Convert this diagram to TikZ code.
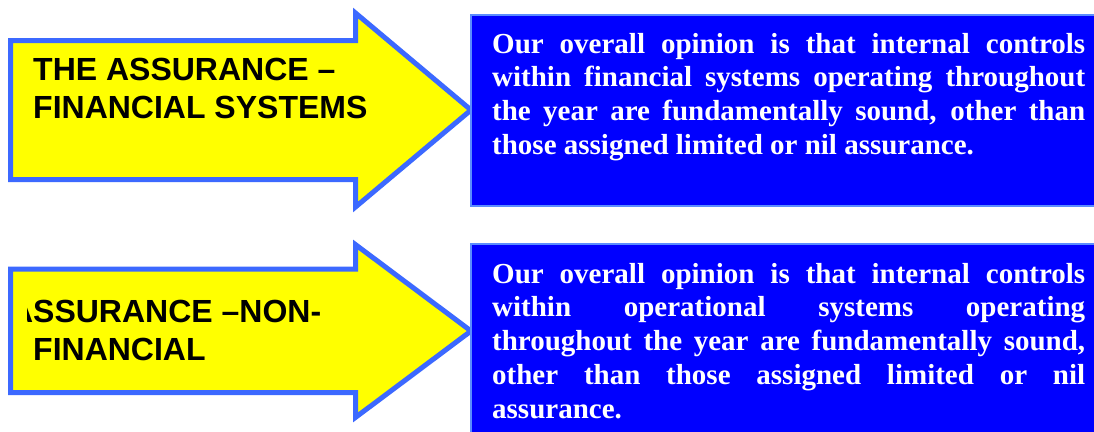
\documentclass[tikz,border=0pt]{standalone}
\usepackage{fontspec}
\newfontfamily\arialb{Liberation Sans}
\newfontfamily\timesb{Liberation Serif}
\definecolor{arrowfill}{RGB}{255,255,0}
\definecolor{arrowline}{RGB}{60,105,255}
\definecolor{boxfill}{RGB}{0,0,255}
\definecolor{boxline}{RGB}{90,140,255}
\newcommand{\nosk}{\spaceskip=0pt\xspaceskip=0pt\relax}
\newcommand{\jline}[1]{\makebox[593pt][s]{#1}}
\tikzset{
  arrowshape/.style={draw=arrowline, fill=arrowfill, line width=5pt, line join=miter},
  bluebox/.style={draw=boxline, fill=boxfill, line width=1.5pt},
  arrowtext/.style={anchor=base west, inner sep=0pt, align=left, text=black,
    font=\arialb\bfseries\fontsize{32}{38.5}\selectfont},
  boxtext/.style={anchor=base west, inner sep=0pt, align=left, text width=593pt, text=white,
    font=\timesb\bfseries\fontsize{29}{33.8}\selectfont}
}
\begin{document}
\begin{tikzpicture}[x=1pt,y=-1pt]
\clip (0,0) rectangle (1094,431);
\fill[white] (0,0) rectangle (1094,431);
% arrows
\draw[arrowshape] (10.5,40.5) -- (355.5,40.5) -- (355.5,13) -- (471,110) -- (355.5,207) -- (355.5,179.5) -- (10.5,179.5) -- cycle;
\draw[arrowshape] (10.5,269) -- (355.5,269) -- (355.5,244.6) -- (471,331) -- (355.5,417.4) -- (355.5,392.5) -- (10.5,392.5) -- cycle;
% arrow texts (base anchor = last line)
\node[arrowtext] (t1) at (33,118.5) {\nosk THE ASSURANCE –\\\nosk FINANCIAL SYSTEMS};
\begin{scope}
\clip (27,250) rectangle (470,420);
\node[arrowtext, font=\arialb\bfseries\fontsize{32}{37.5}\selectfont] (t2) at (9.9,360) {\nosk ASSURANCE –NON-\\\hspace*{23.1pt}FINANCIAL};
\end{scope}
% blue boxes
\draw[bluebox] (471,15) rectangle (1110,206);
\draw[bluebox] (471,244) rectangle (1110,445);
\node[boxtext] (b1) at (492,53) {\nosk\jline{Our overall opinion is that internal controls}\\
\jline{within financial systems operating throughout}\\
\jline{the year are fundamentally sound, other than}\\
those assigned limited or nil assurance.};
\node[boxtext] (b2) at (492,283) {\nosk\jline{Our overall opinion is that internal controls}\\
\jline{within operational systems operating}\\
\jline{throughout the year are fundamentally sound,}\\
\jline{other than those assigned limited or nil}\\
assurance.};
\end{tikzpicture}
\end{document}
